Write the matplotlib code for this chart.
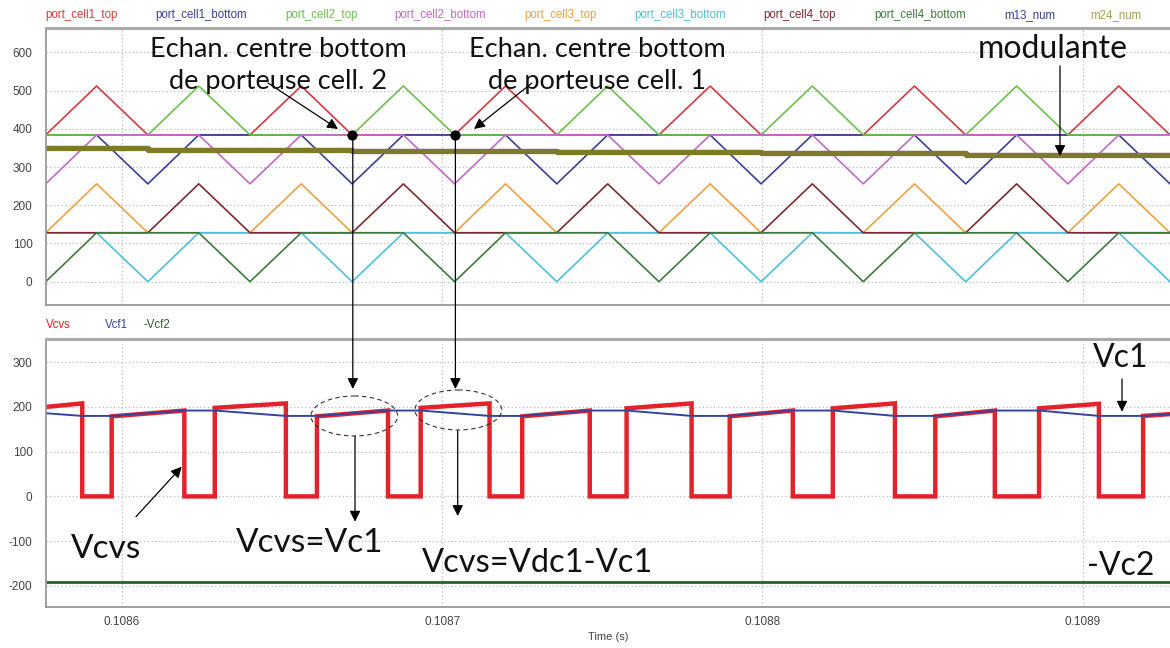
import matplotlib
matplotlib.use("Agg")
import matplotlib.pyplot as plt
from matplotlib.patches import Ellipse, FancyArrowPatch
from matplotlib.transforms import Affine2D

plt.rcParams["font.family"] = ["Liberation Sans", "DejaVu Sans"]
plt.rcParams["axes.unicode_minus"] = False

# knots of the carriers (s): vertices of the triangles
t_knots = [0.1085762, 0.1085921, 0.1086081, 0.1086240, 0.1086400, 0.1086560,
           0.1086719, 0.1086879, 0.1087039, 0.1087198, 0.1087358, 0.1087517,
           0.1087677, 0.1087837, 0.1087996, 0.1088156, 0.1088315, 0.1088475,
           0.1088635, 0.1088794, 0.1088954, 0.1089113, 0.1089273]

port_cell1_top = [384, 512, 384, 384, 384, 512, 384, 384, 384, 512, 384, 384,
                  384, 512, 384, 384, 384, 512, 384, 384, 384, 512, 384]
port_cell1_bottom = [384, 384, 256, 384, 384, 384, 256, 384, 384, 384, 256, 384,
                     384, 384, 256, 384, 384, 384, 256, 384, 384, 384, 256]
port_cell2_top = [384, 384, 384, 512, 384, 384, 384, 512, 384, 384, 384, 512,
                  384, 384, 384, 512, 384, 384, 384, 512, 384, 384, 384]
port_cell2_bottom = [256, 384, 384, 384, 256, 384, 384, 384, 256, 384, 384, 384,
                     256, 384, 384, 384, 256, 384, 384, 384, 256, 384, 384]
port_cell3_top = [128, 256, 128, 128, 128, 256, 128, 128, 128, 256, 128, 128,
                  128, 256, 128, 128, 128, 256, 128, 128, 128, 256, 128]
port_cell3_bottom = [128, 128, 0, 128, 128, 128, 0, 128, 128, 128, 0, 128,
                     128, 128, 0, 128, 128, 128, 0, 128, 128, 128, 0]
port_cell4_top = [128, 128, 128, 256, 128, 128, 128, 256, 128, 128, 128, 256,
                  128, 128, 128, 256, 128, 128, 128, 256, 128, 128, 128]
port_cell4_bottom = [0, 128, 128, 128, 0, 128, 128, 128, 0, 128, 128, 128,
                     0, 128, 128, 128, 0, 128, 128, 128, 0, 128, 128]

# modulante (stepped, sampled)
mod_t = [0.1085762, 0.1086081, 0.1086719, 0.1087358, 0.1087996, 0.1088635, 0.1089273]
m13_num = [349, 345, 342, 338.5, 335.5, 331, 331]
m24_num = [349, 345, 342, 338.5, 335.5, 331, 331]

# bottom plot
vcvs_t = [0.1085762, 0.1085876, 0.1085876, 0.1085968, 0.1085968, 0.1086195,
          0.1086195, 0.1086290, 0.1086290, 0.1086512, 0.1086512, 0.1086609,
          0.1086609, 0.1086831, 0.1086831, 0.1086933, 0.1086933, 0.1087148,
          0.1087148, 0.1087250, 0.1087250, 0.1087461, 0.1087461, 0.1087576,
          0.1087576, 0.1087779, 0.1087779, 0.1087898, 0.1087898, 0.1088095,
          0.1088095, 0.1088220, 0.1088220, 0.1088414, 0.1088414, 0.1088540,
          0.1088540, 0.1088726, 0.1088726, 0.1088864, 0.1088864, 0.1089051,
          0.1089051, 0.1089189, 0.1089189, 0.1089273]
vcvs_v = [200, 208, 0, 0, 179, 192,
          0, 0, 198, 208, 0, 0,
          179, 192, 0, 0, 198, 208,
          0, 0, 179, 192, 0, 0,
          197, 208, 0, 0, 179, 192,
          0, 0, 197, 208, 0, 0,
          179, 192, 0, 0, 197, 207,
          0, 0, 180, 184]

vcf1_t = [0.1085762, 0.1085876, 0.1085968, 0.1086195, 0.1086290, 0.1086512,
          0.1086609, 0.1086831, 0.1086933, 0.1087148, 0.1087250, 0.1087461,
          0.1087576, 0.1087779, 0.1087898, 0.1088095, 0.1088220, 0.1088414,
          0.1088540, 0.1088726, 0.1088864, 0.1089051, 0.1089189, 0.1089273]
vcf1_v = [186, 180, 180, 192, 192, 180, 180, 192, 192, 180, 180, 192,
          192, 180, 180, 192, 192, 180, 180, 192, 192, 180, 180, 184]

vcf2_t = [0.1085762, 0.1089273]
vcf2_v = [-191, -191]

top_names = ["port_cell1_top", "port_cell1_bottom", "port_cell2_top", "port_cell2_bottom",
             "port_cell3_top", "port_cell3_bottom", "port_cell4_top", "port_cell4_bottom",
             "m13_num", "m24_num"]
top_colors = ["#d23a3f", "#3b3f98", "#6cbf4c", "#c168c4", "#f0a040", "#4cc0df",
              "#7c2a30", "#3c7a3c", "#3a3f8a", "#a3a24e"]
top_series = [port_cell1_top, port_cell1_bottom, port_cell2_top, port_cell2_bottom,
              port_cell3_top, port_cell3_bottom, port_cell4_top, port_cell4_bottom]

bot_names = ["Vcvs", "Vcf1", "-Vcf2"]
bot_colors = ["#e3232b", "#3344a0", "#2d5e2d"]

W, H = 1170, 648
fig = plt.figure(figsize=(W / 100, H / 100), dpi=100)
px = Affine2D().scale(1 / W, -1 / H).translate(0, 1) + fig.transFigure

ax1 = fig.add_axes([45.7 / W, 1 - 305 / H, 1 - 45.7 / W, (305 - 28.3) / H])
ax2 = fig.add_axes([45.7 / W, 1 - 607.3 / H, 1 - 45.7 / W, (607.3 - 339) / H])

for s, c in zip(top_series, top_colors[:8]):
    ax1.plot(t_knots, s, color=c, lw=1.2)
ax1.step(mod_t, m13_num, where="post", color=top_colors[8], lw=3)
ax1.step(mod_t, m24_num, where="post", color="#7d7a2a", lw=3.8)

ax2.plot(vcvs_t, vcvs_v, color=bot_colors[0], lw=3.2, solid_joinstyle="miter")
ax2.plot(vcf1_t, vcf1_v, color=bot_colors[1], lw=1.4)
ax2.plot(vcf2_t, vcf2_v, color=bot_colors[2], lw=2)

xt = [0.1086, 0.1087, 0.1088, 0.1089]
for ax, ylim, yt in [(ax1, (-61, 663), range(0, 700, 100)),
                     (ax2, (-248, 352), range(-200, 400, 100))]:
    ax.set_xlim(t_knots[0], t_knots[-1])
    ax.set_ylim(*ylim)
    ax.set_yticks(list(yt))
    ax.set_xticks(xt)
    ax.grid(True, color="#bbbbbb", lw=0.9, linestyle=(0, (1, 2)))
    ax.tick_params(length=0, labelsize=8.5, labelcolor="#444444", pad=9.5)
    for side in ["left", "bottom", "top"]:
        ax.spines[side].set_color("#999999")
        ax.spines[side].set_linewidth(1.3)
    ax.spines["right"].set_visible(False)
    ax.set_axisbelow(True)

ax1.spines["top"].set_linewidth(2.2)
ax1.spines["top"].set_color("#aaaaaa")
ax2.spines["top"].set_linewidth(2.2)
ax2.spines["top"].set_color("#aaaaaa")
ax1.set_xticklabels([])
ax2.set_xticklabels(["%.4f" % v for v in xt])
ax2.tick_params(axis="x", pad=6)
ax2.set_xlabel("Time (s)", fontsize=8, color="#444444", labelpad=3)

# legends as coloured text
leg_x = [45, 155, 285, 394, 524, 634, 763, 874, 1004, 1090]
for x, name, c in zip(leg_x, top_names, top_colors):
    fig.text(x / W, 1 - 15 / H, name, color=c, fontsize=8.3, va="center", ha="left")
for x, name, c in zip([45.7, 105, 143], bot_names, bot_colors):
    fig.text(x / W, 1 - 325 / H, name, color=c, fontsize=8.3, va="center", ha="left")

# dots on the carriers
ax1.scatter([t_knots[6], t_knots[8]], [384, 384], s=40, color="black", zorder=5)

afont = dict(family=["Lato", "DejaVu Sans"], color="#111111", transform=px)
arr = dict(arrowstyle="-|>", color="black", lw=0.9, mutation_scale=16, shrinkA=0, shrinkB=0)

fig.text(278, 57, "Echan. centre bottom", fontsize=19.5, ha="center", va="baseline", **afont)
fig.text(278, 89, "de porteuse cell. 2", fontsize=19.5, ha="center", va="baseline", **afont)
fig.text(597, 57, "Echan. centre bottom", fontsize=19.5, ha="center", va="baseline", **afont)
fig.text(597, 89, "de porteuse cell. 1", fontsize=19.5, ha="center", va="baseline", **afont)
fig.text(1053, 58, "modulante", fontsize=23, ha="center", va="baseline", **afont)
fig.text(1121, 366.7, "Vc1", fontsize=23, ha="center", va="baseline", **afont)
fig.text(310, 551.7, "Vcvs=Vc1", fontsize=24, ha="center", va="baseline", **afont)
fig.text(538, 571.7, "Vcvs=Vdc1-Vc1", fontsize=23.5, ha="center", va="baseline", **afont)
fig.text(106, 558, "Vcvs", fontsize=24, ha="center", va="baseline", **afont)
fig.text(1121, 575, "-Vc2", fontsize=23, ha="center", va="baseline", **afont)

arrows = [((268, 83), (338, 129)), ((532, 83), (474, 129)),
          ((352.8, 135), (352.8, 389)), ((455.4, 135), (455.4, 389)),
          ((355, 436), (355, 521.7)), ((457.7, 430.7), (457.7, 516)),
          ((1060, 66), (1060, 156)), ((1122, 379), (1122, 411.7)),
          ((136, 516.7), (181.7, 466.7))]
for start, end in arrows:
    fig.add_artist(FancyArrowPatch(start, end, transform=px, **arr))

for cx, cy in [(354.3, 416), (458.3, 410)]:
    fig.add_artist(Ellipse((cx, cy), 86.7, 40, transform=px, fill=False,
                           ec="#333333", lw=0.8, ls=(0, (4, 3))))

fig.savefig("out.png", dpi=100)
